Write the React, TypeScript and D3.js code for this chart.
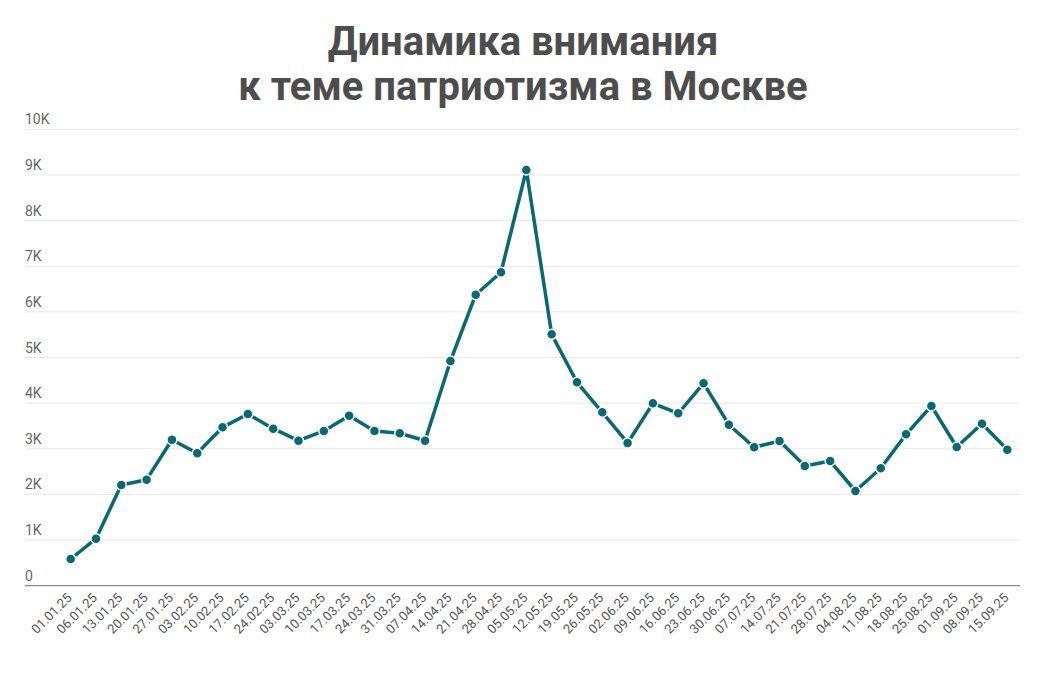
import React from "react";
import * as d3 from "d3";

const dates = ["01.01.25","06.01.25","13.01.25","20.01.25","27.01.25","03.02.25","10.02.25","17.02.25","24.02.25","03.03.25","10.03.25","17.03.25","24.03.25","31.03.25","07.04.25","14.04.25","21.04.25","28.04.25","05.05.25","12.05.25","19.05.25","26.05.25","02.06.25","09.06.25","16.06.25","23.06.25","30.06.25","07.07.25","14.07.25","21.07.25","28.07.25","04.08.25","11.08.25","18.08.25","25.08.25","01.09.25","08.09.25","15.09.25"];
const values = [585,1030,2206,2323,3199,2901,3470,3762,3440,3177,3390,3725,3390,3340,3177,4923,6376,6867,9108,5508,4457,3800,3127,3996,3777,4435,3528,3032,3170,2623,2732,2075,2572,3317,3937,3039,3550,2980];
const yTicks = [0,1000,2000,3000,4000,5000,6000,7000,8000,9000,10000];
const yTickLabels = ["0","1K","2K","3K","4K","5K","6K","7K","8K","9K","10K"];
const titleLines = ["Динамика внимания","к теме патриотизма в Москве"];

export default function App() {
  const W = 1055, H = 682;
  const x = d3.scaleBand<string>().domain(dates).range([58, 1020]);
  const y = d3.scaleLinear().domain([0, 10000]).range([585.7, 129.3]);
  const cx = (d: string) => (x(d) as number) + x.bandwidth() / 2;
  const line = d3.line<number>().x((_, i) => cx(dates[i])).y((v) => y(v));
  const color = "#066a74";
  const font = "Roboto, 'Noto Sans', sans-serif";
  return (
    <svg width={W} height={H} style={{ position: "absolute", left: 0, top: 0, background: "#fff" }}>
      <g fontFamily={font}>
        {titleLines.map((t, i) => (
          <text key={i} x={523} y={55 + i * 45} textAnchor="middle" fontSize={40} fontWeight={700} fill="#4d4d4d">{t}</text>
        ))}
        {yTicks.map((t, i) => (
          <g key={t}>
            {t !== 0 && <line x1={25} x2={1020} y1={y(t)} y2={y(t)} stroke="#e8e8e8" strokeWidth={1} />}
            <text x={25} y={y(t) - 5} fontSize={14} fill="#666">{yTickLabels[i]}</text>
          </g>
        ))}
        <line x1={25} x2={1020} y1={y(0)} y2={y(0)} stroke="#8a8a8a" strokeWidth={1.3} />
        {dates.map((d) => (
          <text key={d} transform={`translate(${cx(d) + 2},${y(0) + 13}) rotate(-45)`} textAnchor="end" fontSize={13} fill="#555">{d}</text>
        ))}
        <path d={line(values) as string} fill="none" stroke={color} strokeWidth={3.5} strokeLinejoin="round" />
        {values.map((v, i) => (
          <circle key={i} cx={cx(dates[i])} cy={y(v)} r={5} fill={color} stroke="#fff" strokeWidth={1.5} />
        ))}
      </g>
    </svg>
  );
}
